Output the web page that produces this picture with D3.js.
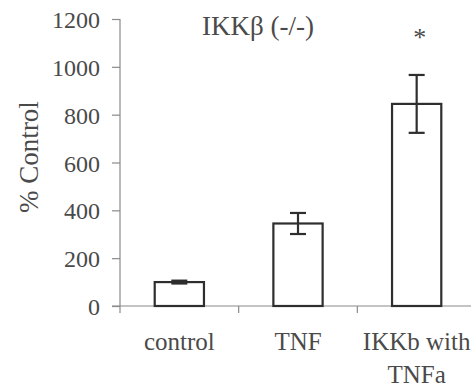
<!DOCTYPE html>
<html>
<head>
<meta charset="utf-8">
<script src="https://cdn.jsdelivr.net/npm/d3@7"></script>
<style>
  body { margin: 0; background: #fff; }
</style>
</head>
<body>
<svg id="chart" width="471" height="392" font-family="Liberation Serif"></svg>
<script>
"use strict";

const categories = ["control", "TNF", "IKKb with\nTNFa"];
const values = [100, 345, 845];
const errors = [6, 44, 121];
const yTicks = [0, 200, 400, 600, 800, 1000, 1200];
const significant = [false, false, true];

const FONT = "Liberation Serif";
const textColor = "#4a4a4a";
const axisColor = "#8a8a8a";

const svg = d3.select("#chart");
const margin = { left: 120, top: 19, bottom: 306, right: 476 };

const x = d3.scaleBand()
  .domain(categories)
  .range([margin.left, margin.right])
  .paddingInner(0.585)
  .paddingOuter(0.2925);

const y = d3.scaleLinear()
  .domain([0, 1200])
  .range([margin.bottom, margin.top]);

// y axis
const yAxis = svg.append("g")
  .attr("transform", `translate(${margin.left},0)`)
  .call(d3.axisLeft(y).tickValues(yTicks).tickSize(8).tickPadding(12).tickFormat(d3.format("d")));
yAxis.attr("font-family", FONT).attr("font-size", 24);
yAxis.select(".domain").attr("stroke", axisColor).attr("stroke-width", 1.2)
  .attr("d", `M0,${margin.top}V${margin.bottom}`);
yAxis.selectAll(".tick line").attr("stroke", axisColor).attr("stroke-width", 1.2);
yAxis.selectAll(".tick text")
  .attr("font-family", FONT)
  .attr("font-size", 24)
  .attr("fill", textColor)
  .attr("dy", "0.36em");

// x axis with ticks between categories
const gap = x.step() - x.bandwidth();
const boundaries = categories.map(c => x(c) - gap / 2);
boundaries.push(x(categories[categories.length - 1]) + x.bandwidth() + gap / 2);

const xg = svg.append("g");
xg.append("line")
  .attr("x1", margin.left - 8).attr("x2", 471)
  .attr("y1", y(0)).attr("y2", y(0))
  .attr("stroke", axisColor).attr("stroke-width", 1.2);
xg.selectAll("line.tick")
  .data(boundaries)
  .enter()
  .append("line")
  .attr("class", "tick")
  .attr("x1", d => d).attr("x2", d => d)
  .attr("y1", y(0)).attr("y2", y(0) + 7)
  .attr("stroke", axisColor).attr("stroke-width", 1.2);

xg.selectAll("text.cat")
  .data(categories)
  .enter()
  .append("text")
  .attr("class", "cat")
  .attr("text-anchor", "middle")
  .attr("y", 350)
  .attr("fill", textColor)
  .attr("font-family", FONT)
  .attr("font-size", 25)
  .each(function(d) {
    const t = d3.select(this);
    d.split("\n").forEach((l, i) => {
      t.append("tspan")
        .attr("x", x(d) + x.bandwidth() / 2)
        .attr("dy", i === 0 ? 0 : 33)
        .text(l);
    });
  });

// bars
const data = categories.map((c, i) => ({ c, v: values[i], e: errors[i], sig: significant[i] }));

svg.append("g").selectAll("rect")
  .data(data)
  .enter()
  .append("rect")
  .attr("x", d => x(d.c))
  .attr("y", d => y(d.v))
  .attr("width", x.bandwidth())
  .attr("height", d => y(0) - y(d.v))
  .attr("fill", "#fff")
  .attr("stroke", "#2e2e2e")
  .attr("stroke-width", 2.2);

// error bars
const eb = svg.append("g").selectAll("g")
  .data(data)
  .enter()
  .append("g")
  .attr("stroke", "#2e2e2e")
  .attr("stroke-width", 2.2);

const cx = d => x(d.c) + x.bandwidth() / 2;
eb.append("line")
  .attr("x1", cx).attr("x2", cx)
  .attr("y1", d => y(d.v - d.e))
  .attr("y2", d => y(d.v + d.e));
eb.append("line")
  .attr("x1", d => cx(d) - 8).attr("x2", d => cx(d) + 8)
  .attr("y1", d => y(d.v + d.e)).attr("y2", d => y(d.v + d.e));
eb.append("line")
  .attr("x1", d => cx(d) - 8).attr("x2", d => cx(d) + 8)
  .attr("y1", d => y(d.v - d.e)).attr("y2", d => y(d.v - d.e));

// significance marker
svg.append("g").selectAll("text")
  .data(data.filter(d => d.sig))
  .enter()
  .append("text")
  .attr("x", d => cx(d) + 3)
  .attr("y", 46)
  .attr("text-anchor", "middle")
  .attr("fill", textColor)
  .attr("font-family", FONT)
  .attr("font-size", 26)
  .text("*");

// title
svg.append("text")
  .attr("x", 258)
  .attr("y", 35)
  .attr("text-anchor", "middle")
  .attr("fill", textColor)
  .attr("font-family", FONT)
  .attr("font-size", 27)
  .text("IKKβ (-/-)");

// y label
svg.append("text")
  .attr("transform", "translate(38,157) rotate(-90)")
  .attr("text-anchor", "middle")
  .attr("fill", textColor)
  .attr("font-family", FONT)
  .attr("font-size", 27)
  .text("% Control");
</script>
</body>
</html>
